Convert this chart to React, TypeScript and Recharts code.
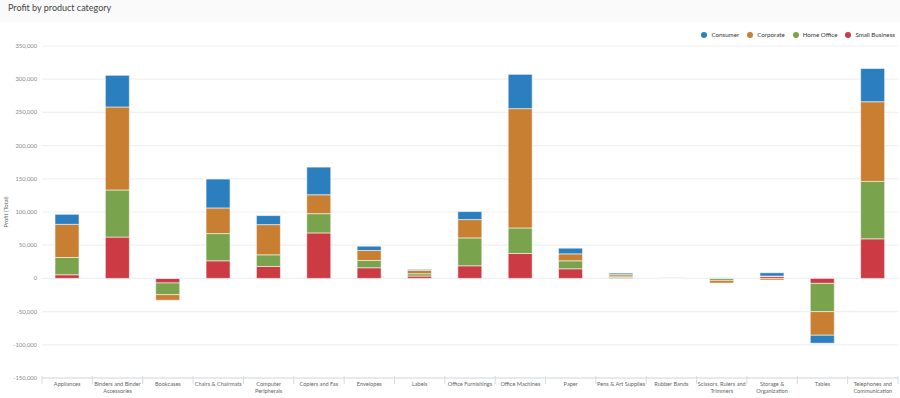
import React from 'react';
import { BarChart, Bar, XAxis, YAxis, CartesianGrid } from 'recharts';

const categories = [
  'Appliances',
  'Binders and Binder Accessories',
  'Bookcases',
  'Chairs & Chairmats',
  'Computer Peripherals',
  'Copiers and Fax',
  'Envelopes',
  'Labels',
  'Office Furnishings',
  'Office Machines',
  'Paper',
  'Pens & Art Supplies',
  'Rubber Bands',
  'Scissors, Rulers and Trimmers',
  'Storage & Organization',
  'Tables',
  'Telephones and Communication'
];

// tick labels as they wrap in the reference
const tickLines = [
  ['Appliances'],
  ['Binders and Binder', 'Accessories'],
  ['Bookcases'],
  ['Chairs & Chairmats'],
  ['Computer', 'Peripherals'],
  ['Copiers and Fax'],
  ['Envelopes'],
  ['Labels'],
  ['Office Furnishings'],
  ['Office Machines'],
  ['Paper'],
  ['Pens & Art Supplies'],
  ['Rubber Bands'],
  ['Scissors, Rulers and', 'Trimmers'],
  ['Storage &', 'Organization'],
  ['Tables'],
  ['Telephones and', 'Communication']
];

const consumer = [15000, 47600, 500, 43500, 13600, 41600, 6500, 1500, 12000, 51600, 8500, 2000, 300, 400, 5000, -12000, 50000];
const corporate = [50000, 125000, -8400, 38600, 45500, 28500, 15000, 5000, 27600, 179700, 10500, 2500, 200, -4000, -2500, -35600, 120000];
const homeOffice = [26000, 71000, -17600, 41000, 17500, 29000, 11000, 3500, 42000, 38500, 12000, 2000, 200, -3000, 500, -42500, 86500];
const smallBusiness = [5500, 62200, -6900, 26500, 18000, 68500, 16000, 3500, 19000, 37500, 14500, 1500, 300, 300, 3000, -7500, 59600];

const yTicks = [-150000, -100000, -50000, 0, 50000, 100000, 150000, 200000, 250000, 300000, 350000];

const series = [
  { key: 'Consumer', color: '#2b7fbf' },
  { key: 'Corporate', color: '#c97f32' },
  { key: 'Home Office', color: '#79a34c' },
  { key: 'Small Business', color: '#cc3a43' }
];

const data = categories.map((name, i) => ({
  name,
  Consumer: consumer[i],
  Corporate: corporate[i],
  'Home Office': homeOffice[i],
  'Small Business': smallBusiness[i]
}));

const FONT = 'Lato, "Open Sans", sans-serif';
const PLOT_LEFT = 42;
const PLOT_RIGHT = 898;
const STEP = (PLOT_RIGHT - PLOT_LEFT) / categories.length;

const XTick = (props: any) => {
  const { x, y, payload, index } = props;
  const lines = tickLines[index] || [payload.value];
  const left = x - STEP / 2;
  return (
    <g>
      <line x1={left} y1={y - 2} x2={left} y2={y + 6} stroke="#d5dbe5" />
      {index === categories.length - 1 && (
        <line x1={left + STEP} y1={y - 2} x2={left + STEP} y2={y + 6} stroke="#d5dbe5" />
      )}
      <text x={x} y={y + 8} textAnchor="middle" fontSize={5.6} fill="#666" fontFamily={FONT}>
        {lines.map((l: string, k: number) => (
          <tspan key={k} x={x} dy={k === 0 ? 0 : 7}>
            {l}
          </tspan>
        ))}
      </text>
    </g>
  );
};

const App = () => {
  // Bars are stacked from zero outward: Small Business, Home Office, Corporate, Consumer
  const stackOrder = [...series].reverse();
  return (
    <div style={{ position: 'relative', width: 900, height: 398, background: '#fff', fontFamily: FONT }}>
      <style>{`body{margin:0}`}</style>
      <div
        style={{
          height: 22,
          background: '#fafafa',
          fontSize: 9,
          color: '#444',
          paddingLeft: 8,
          lineHeight: '15px'
        }}
      >
        Profit by product category
      </div>
      <div
        style={{
          position: 'absolute',
          top: 31,
          right: 5,
          display: 'flex',
          gap: 8,
          fontSize: 6.2,
          color: '#333',
          alignItems: 'center'
        }}
      >
        {series.map((s) => (
          <div key={s.key} style={{ display: 'flex', alignItems: 'center' }}>
            <span
              style={{
                width: 6,
                height: 6,
                borderRadius: 3,
                background: s.color,
                display: 'inline-block',
                marginRight: 4
              }}
            />
            {s.key}
          </div>
        ))}
      </div>
      <BarChart
        width={900}
        height={376}
        data={data}
        stackOffset="sign"
        margin={{ top: 24, right: 2, bottom: 0, left: 0 }}
        barSize={24}
      >
        <CartesianGrid vertical={false} stroke="#f0f0f0" strokeWidth={1.2} />
        <XAxis
          dataKey="name"
          interval={0}
          height={20}
          tickLine={false}
          tickSize={0}
          tickMargin={0}
          axisLine={{ stroke: '#d5dbe5' }}
          tick={<XTick />}
        />
        <YAxis
          width={42}
          domain={[-150000, 350000]}
          ticks={yTicks}
          allowDataOverflow
          axisLine={false}
          tickLine={false}
          tickSize={0}
          tickMargin={5}
          tick={{ fontSize: 5.8, fill: '#888', fontFamily: FONT }}
          tickFormatter={(v: number) => v.toLocaleString('en-US')}
          label={{
            value: 'Profit (Total)',
            angle: -90,
            position: 'insideLeft',
            offset: 6,
            style: { fontSize: 5.8, fill: '#666', fontFamily: FONT, textAnchor: 'middle' }
          }}
        />
        {stackOrder.map((s) => (
          <Bar
            key={s.key}
            dataKey={s.key}
            stackId="a"
            fill={s.color}
            stroke="rgba(255,255,255,0.55)"
            strokeWidth={1}
            isAnimationActive={false}
          />
        ))}
      </BarChart>
    </div>
  );
};

export default App;
